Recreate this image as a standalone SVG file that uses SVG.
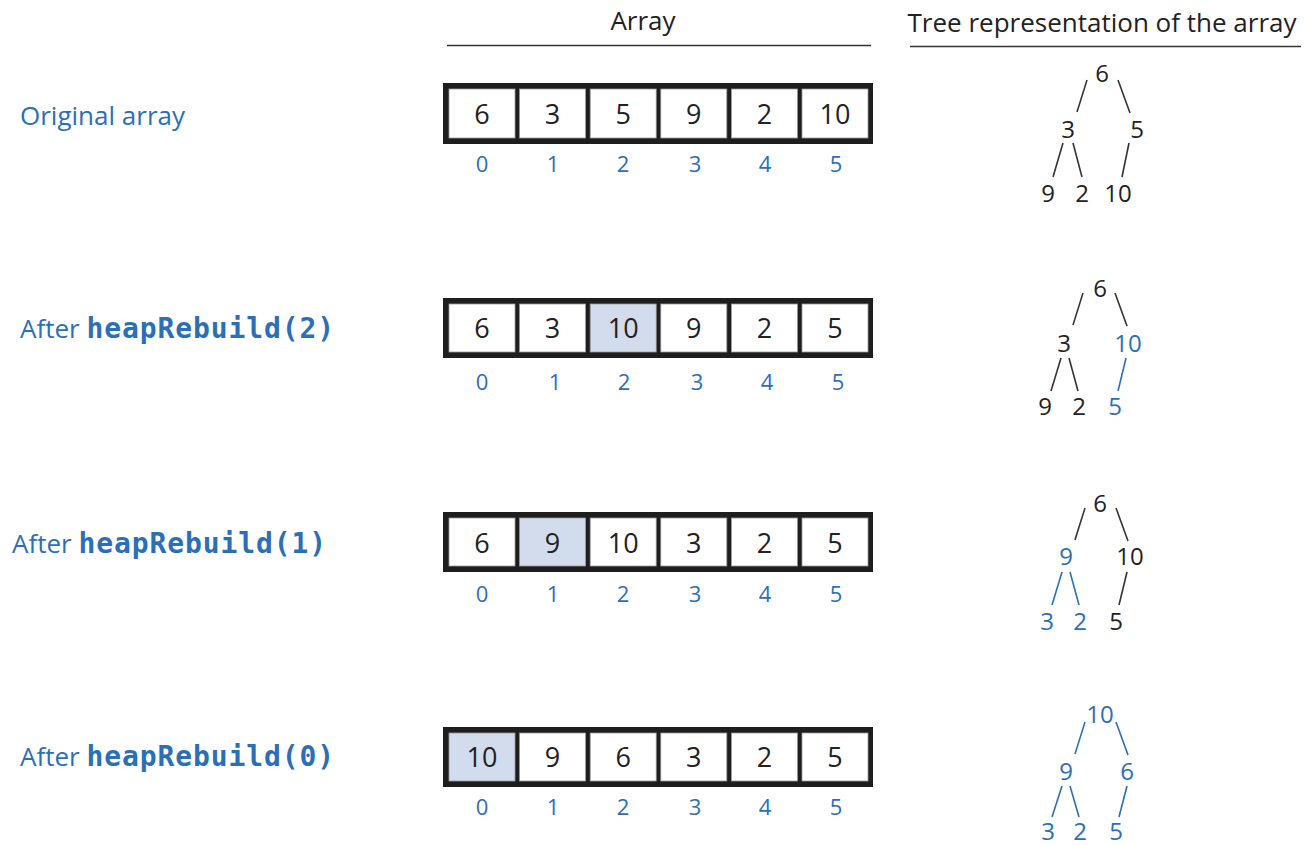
<svg xmlns="http://www.w3.org/2000/svg" width="1307" height="845" viewBox="0 0 1307 845">
  <style>
    .hdr { font-family: "Open Sans", "Noto Sans", sans-serif; font-size: 26px; fill: #222; text-anchor: middle; }
    .rule { stroke: #333; stroke-width: 1.6; }
    .lbl { font-family: "Open Sans", "Noto Sans", sans-serif; font-size: 26px; fill: #2b6fb7; }
    .code { font-family: "DejaVu Sans Mono", "Liberation Mono", monospace; font-weight: bold; font-size: 28px; letter-spacing: 0.9px; fill: #2b6fb7; }
    .frame { fill: #1e1e1e; }
    .cell { fill: #ffffff; stroke: #9a9a9a; stroke-width: 0.8; }
    .cell.hl { fill: #d3dcec; }
    .val { font-family: "Open Sans", "Noto Sans", sans-serif; font-size: 27px; fill: #222; text-anchor: middle; }
    .idx { font-family: "Open Sans", "Noto Sans", sans-serif; font-size: 22px; fill: #2b6fb7; text-anchor: middle; }
    .tn { font-family: "Open Sans", "Noto Sans", sans-serif; font-size: 24px; fill: #222; text-anchor: middle; }
    .tn.b { fill: #2b6fb7; }
    .edge { stroke: #333; stroke-width: 1.6; fill: none; }
    .edge.b { stroke: #2b6fb7; }
  </style>

  <!-- column headings -->
  <g id="headings">
    <text class="hdr" x="643" y="30">Array</text>
    <line class="rule" x1="447" y1="45.5" x2="871" y2="45.5"/>
    <text class="hdr" x="1102" y="32" font-size="26.5">Tree representation of the array</text>
    <line class="rule" x1="910" y1="46.5" x2="1301" y2="46.5"/>
  </g>

  <!-- row labels -->
  <g id="label-original"><text class="lbl" x="20" y="125">Original array</text></g>
  <g id="label-rebuild2"><text class="lbl" x="20" y="338">After <tspan class="code">heapRebuild(2)</tspan></text></g>
  <g id="label-rebuild1"><text class="lbl" x="12" y="553">After <tspan class="code">heapRebuild(1)</tspan></text></g>
  <g id="label-rebuild0"><text class="lbl" x="20" y="766">After <tspan class="code">heapRebuild(0)</tspan></text></g>

  <!-- arrays: black frame with six inset cells -->
  <g id="array-original">
    <rect class="frame" x="443" y="83" width="430" height="61"/>
    <rect class="cell" x="449" y="89" width="66" height="49"/>
    <rect class="cell" x="519.6" y="89" width="66" height="49"/>
    <rect class="cell" x="590.2" y="89" width="66" height="49"/>
    <rect class="cell" x="660.8" y="89" width="66" height="49"/>
    <rect class="cell" x="731.4" y="89" width="66" height="49"/>
    <rect class="cell" x="802" y="89" width="66" height="49"/>
    <text class="val" y="124"><tspan x="482">6</tspan><tspan x="552.6">3</tspan><tspan x="623.2">5</tspan><tspan x="693.8">9</tspan><tspan x="764.4">2</tspan><tspan x="835">10</tspan></text>
    <text class="idx" y="172"><tspan x="482">0</tspan><tspan x="553">1</tspan><tspan x="623">2</tspan><tspan x="695">3</tspan><tspan x="765">4</tspan><tspan x="836">5</tspan></text>
  </g>

  <g id="array-rebuild2">
    <rect class="frame" x="443" y="298" width="430" height="60"/>
    <rect class="cell" x="449" y="304" width="66" height="48"/>
    <rect class="cell" x="519.6" y="304" width="66" height="48"/>
    <rect class="cell hl" x="590.2" y="304" width="66" height="48"/>
    <rect class="cell" x="660.8" y="304" width="66" height="48"/>
    <rect class="cell" x="731.4" y="304" width="66" height="48"/>
    <rect class="cell" x="802" y="304" width="66" height="48"/>
    <text class="val" y="338"><tspan x="482">6</tspan><tspan x="552.6">3</tspan><tspan x="623.2">10</tspan><tspan x="693.8">9</tspan><tspan x="764.4">2</tspan><tspan x="835">5</tspan></text>
    <text class="idx" y="390"><tspan x="482">0</tspan><tspan x="555">1</tspan><tspan x="624">2</tspan><tspan x="697">3</tspan><tspan x="767">4</tspan><tspan x="838">5</tspan></text>
  </g>

  <g id="array-rebuild1">
    <rect class="frame" x="443" y="512" width="430" height="60"/>
    <rect class="cell" x="449" y="518" width="66" height="48"/>
    <rect class="cell hl" x="519.6" y="518" width="66" height="48"/>
    <rect class="cell" x="590.2" y="518" width="66" height="48"/>
    <rect class="cell" x="660.8" y="518" width="66" height="48"/>
    <rect class="cell" x="731.4" y="518" width="66" height="48"/>
    <rect class="cell" x="802" y="518" width="66" height="48"/>
    <text class="val" y="553"><tspan x="482">6</tspan><tspan x="552.6">9</tspan><tspan x="623.2">10</tspan><tspan x="693.8">3</tspan><tspan x="764.4">2</tspan><tspan x="835">5</tspan></text>
    <text class="idx" y="602"><tspan x="482">0</tspan><tspan x="553">1</tspan><tspan x="623">2</tspan><tspan x="695">3</tspan><tspan x="765">4</tspan><tspan x="836">5</tspan></text>
  </g>

  <g id="array-rebuild0">
    <rect class="frame" x="443" y="727" width="430" height="60"/>
    <rect class="cell hl" x="449" y="733" width="66" height="48"/>
    <rect class="cell" x="519.6" y="733" width="66" height="48"/>
    <rect class="cell" x="590.2" y="733" width="66" height="48"/>
    <rect class="cell" x="660.8" y="733" width="66" height="48"/>
    <rect class="cell" x="731.4" y="733" width="66" height="48"/>
    <rect class="cell" x="802" y="733" width="66" height="48"/>
    <text class="val" y="767"><tspan x="482">10</tspan><tspan x="552.6">9</tspan><tspan x="623.2">6</tspan><tspan x="693.8">3</tspan><tspan x="764.4">2</tspan><tspan x="835">5</tspan></text>
    <text class="idx" y="815"><tspan x="482">0</tspan><tspan x="553">1</tspan><tspan x="623">2</tspan><tspan x="695">3</tspan><tspan x="765">4</tspan><tspan x="836">5</tspan></text>
  </g>

  <!-- tree nodes -->
  <g id="tree-original">
    <text class="tn" x="1102" y="82">6</text>
    <text class="tn" x="1068" y="138">3</text>
    <text class="tn" x="1137" y="138">5</text>
    <text class="tn" x="1048" y="202">9</text>
    <text class="tn" x="1082" y="202">2</text>
    <text class="tn" x="1118" y="202">10</text>
  </g>
  <g id="tree-rebuild2">
    <text class="tn" x="1100" y="297">6</text>
    <text class="tn" x="1064" y="352">3</text>
    <text class="tn b" x="1128" y="352">10</text>
    <text class="tn" x="1045" y="415">9</text>
    <text class="tn" x="1079" y="415">2</text>
    <text class="tn b" x="1115" y="415">5</text>
  </g>
  <g id="tree-rebuild1">
    <text class="tn" x="1100" y="512">6</text>
    <text class="tn b" x="1066" y="565">9</text>
    <text class="tn" x="1130" y="565">10</text>
    <text class="tn b" x="1047" y="630">3</text>
    <text class="tn b" x="1080" y="630">2</text>
    <text class="tn" x="1116" y="630">5</text>
  </g>
  <g id="tree-rebuild0">
    <text class="tn b" x="1100" y="723">10</text>
    <text class="tn b" x="1066" y="780">9</text>
    <text class="tn b" x="1127" y="780">6</text>
    <text class="tn b" x="1048" y="840">3</text>
    <text class="tn b" x="1080" y="840">2</text>
    <text class="tn b" x="1116" y="840">5</text>
  </g>

  <!-- tree edges -->
  <g id="connectors">
    <line class="edge" x1="1087" y1="80" x2="1077" y2="112"/>
    <line class="edge" x1="1118" y1="80" x2="1130" y2="113"/>
    <line class="edge" x1="1063" y1="143" x2="1053" y2="177"/>
    <line class="edge" x1="1073" y1="143" x2="1082" y2="177"/>
    <line class="edge" x1="1129" y1="143" x2="1122" y2="177"/>

    <line class="edge" x1="1083" y1="293" x2="1073" y2="325"/>
    <line class="edge" x1="1115" y1="293" x2="1127" y2="326"/>
    <line class="edge" x1="1061" y1="358" x2="1051" y2="391"/>
    <line class="edge" x1="1069" y1="358" x2="1078" y2="391"/>
    <line class="edge b" x1="1126" y1="358" x2="1118" y2="391"/>

    <line class="edge" x1="1085" y1="508" x2="1075" y2="540"/>
    <line class="edge" x1="1116" y1="508" x2="1128" y2="541"/>
    <line class="edge b" x1="1062" y1="572" x2="1052" y2="605"/>
    <line class="edge b" x1="1070" y1="572" x2="1079" y2="605"/>
    <line class="edge" x1="1127" y1="572" x2="1119" y2="605"/>

    <line class="edge b" x1="1085" y1="722" x2="1075" y2="754"/>
    <line class="edge b" x1="1116" y1="722" x2="1128" y2="755"/>
    <line class="edge b" x1="1062" y1="786" x2="1052" y2="817"/>
    <line class="edge b" x1="1070" y1="786" x2="1079" y2="817"/>
    <line class="edge b" x1="1127" y1="786" x2="1119" y2="817"/>
  </g>
</svg>
